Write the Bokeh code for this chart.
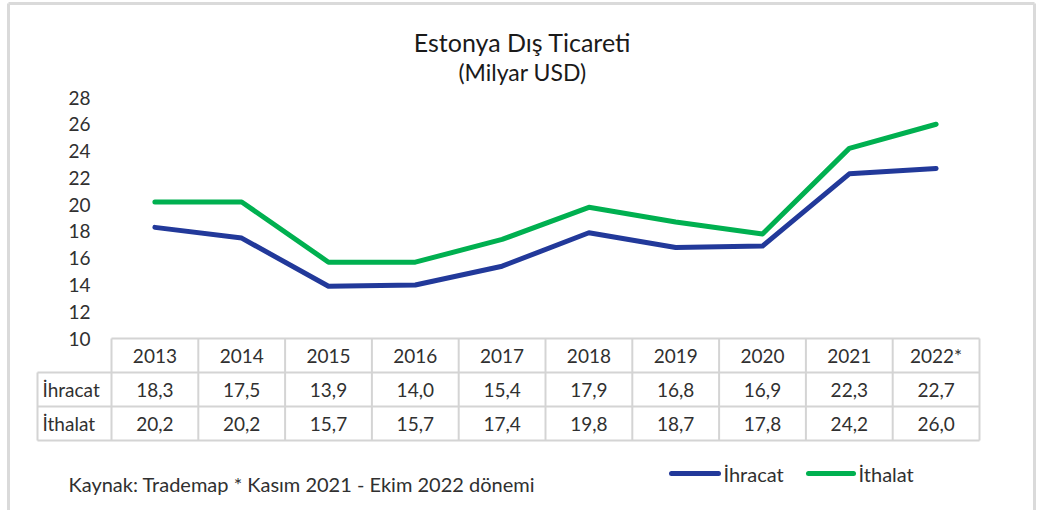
from bokeh.plotting import figure
from bokeh.models import Range1d
from bokeh.embed import file_html
from bokeh.resources import INLINE
from bokeh.core.properties import value

# ---------------- data ----------------
years = ["2013", "2014", "2015", "2016", "2017", "2018", "2019", "2020", "2021", "2022*"]
ihracat = [18.3, 17.5, 13.9, 14.0, 15.4, 17.9, 16.8, 16.9, 22.3, 22.7]
ithalat = [20.2, 20.2, 15.7, 15.7, 17.4, 19.8, 18.7, 17.8, 24.2, 26.0]
y_ticks = [10, 12, 14, 16, 18, 20, 22, 24, 26, 28]
series_names = ["İhracat", "İthalat"]
title_text = "Estonya Dış Ticareti"
subtitle_text = "(Milyar USD)"
source_note = "Kaynak: Trademap * Kasım 2021 - Ekim 2022 dönemi"

# ---------------- layout / style ----------------
W, H = 1040, 510
M = 0  # observed canvas offset on the page
FONT = value("Lato")
TXT = "#303030"
BLUE = "#22399A"
GREEN = "#00B050"
GRID = "#D4D4D4"
FRAME = "#DADADA"


def cx(sx):
    return sx - M


def cy(sy):
    return sy - M


# value scale: 10 at screen y 338, 28 at screen y 97
V0, V1, SY0, SY1 = 10, 28, 338, 97
u = (SY0 - SY1) / (V1 - V0)
val_start = V0 - (H - cy(SY0)) / u
val_end = V1 + cy(SY1) / u

# category scale: table columns
COL0, COLW = 111, 86.8
c0 = cx(COL0 + COLW / 2)
cat_start = -c0 / COLW
cat_end = (W - c0) / COLW

p = figure(width=W, height=H, x_range=Range1d(0, W), y_range=Range1d(H, 0),
           output_backend="svg", toolbar_location=None, min_border=0,
           x_axis_location=None, y_axis_location=None)
p.extra_x_ranges = {"cat": Range1d(cat_start, cat_end)}
p.extra_y_ranges = {"val": Range1d(val_start, val_end)}
p.grid.visible = False
p.outline_line_color = None
p.background_fill_color = "white"
p.border_fill_color = "white"

# outer frame (left, top, right)
FL, FT, FR = cx(8), cy(3), cx(1034)
p.segment(x0=[FL, FL, FR], y0=[H, FT, FT], x1=[FL, FR, FR], y1=[FT, FT, H],
          line_color=FRAME, line_width=3)

# titles
p.text(x=[cx(522)], y=[cy(41)], text=[title_text], text_align="center", text_baseline="middle",
       text_font=FONT, text_font_size="25px", text_color="#1a1a1a")
p.text(x=[cx(522)], y=[cy(71)], text=[subtitle_text], text_align="center", text_baseline="middle",
       text_font=FONT, text_font_size="23px", text_color="#1a1a1a")

# y tick labels
p.text(x=[cx(90)] * len(y_ticks), y=y_ticks, text=[str(t) for t in y_ticks], y_range_name="val",
       text_align="right", text_baseline="middle", text_font=FONT, text_font_size="19px", text_color=TXT)

# lines
idx = list(range(len(years)))
p.line(x=idx, y=ihracat, x_range_name="cat", y_range_name="val", line_color=BLUE, line_width=5,
       line_cap="round", line_join="round")
p.line(x=idx, y=ithalat, x_range_name="cat", y_range_name="val", line_color=GREEN, line_width=5,
       line_cap="round", line_join="round")

# table grid
ROW_Y = [338, 372, 406, 440]
LABEL_X = 37
right = COL0 + COLW * len(years)
hx0 = [cx(COL0), cx(LABEL_X), cx(LABEL_X), cx(LABEL_X)]
hx1 = [cx(right)] * 4
hy = [cy(v) for v in ROW_Y]
p.segment(x0=hx0, y0=hy, x1=hx1, y1=hy, line_color=GRID, line_width=2)
vx = [cx(COL0 + COLW * k) for k in range(len(years) + 1)]
p.segment(x0=vx, y0=[cy(ROW_Y[0])] * len(vx), x1=vx, y1=[cy(ROW_Y[3])] * len(vx),
          line_color=GRID, line_width=2)
p.segment(x0=[cx(LABEL_X)], y0=[cy(ROW_Y[1])], x1=[cx(LABEL_X)], y1=[cy(ROW_Y[3])],
          line_color=GRID, line_width=2)

# table text
def fmt(v):
    return f"{v:.1f}".replace(".", ",")

row_centers = [(ROW_Y[i] + ROW_Y[i + 1]) / 2 for i in range(3)]
for r, labels in enumerate([years, [fmt(v) for v in ihracat], [fmt(v) for v in ithalat]]):
    p.text(x=idx, y=[cy(row_centers[r])] * len(idx), text=labels, x_range_name="cat",
           text_align="center", text_baseline="middle", text_font=FONT, text_font_size="19px",
           text_color=TXT)
p.text(x=[cx(42), cx(42)], y=[cy(row_centers[1]), cy(row_centers[2])], text=series_names,
       text_align="left", text_baseline="middle", text_font=FONT, text_font_size="19px", text_color=TXT)

# source note
p.text(x=[cx(68)], y=[cy(483)], text=[source_note], text_align="left", text_baseline="middle",
       text_font=FONT, text_font_size="20px", text_color=TXT)

# legend
LY = cy(473)
p.segment(x0=[cx(671), cx(808)], y0=[LY, LY], x1=[cx(718), cx(853)], y1=[LY, LY],
          line_color=[BLUE, GREEN], line_width=5, line_cap="round")
p.text(x=[cx(723), cx(858)], y=[LY, LY], text=series_names, text_align="left", text_baseline="middle",
       text_font=FONT, text_font_size="20px", text_color=TXT)

open("out.html", "w").write(file_html(p, INLINE))
